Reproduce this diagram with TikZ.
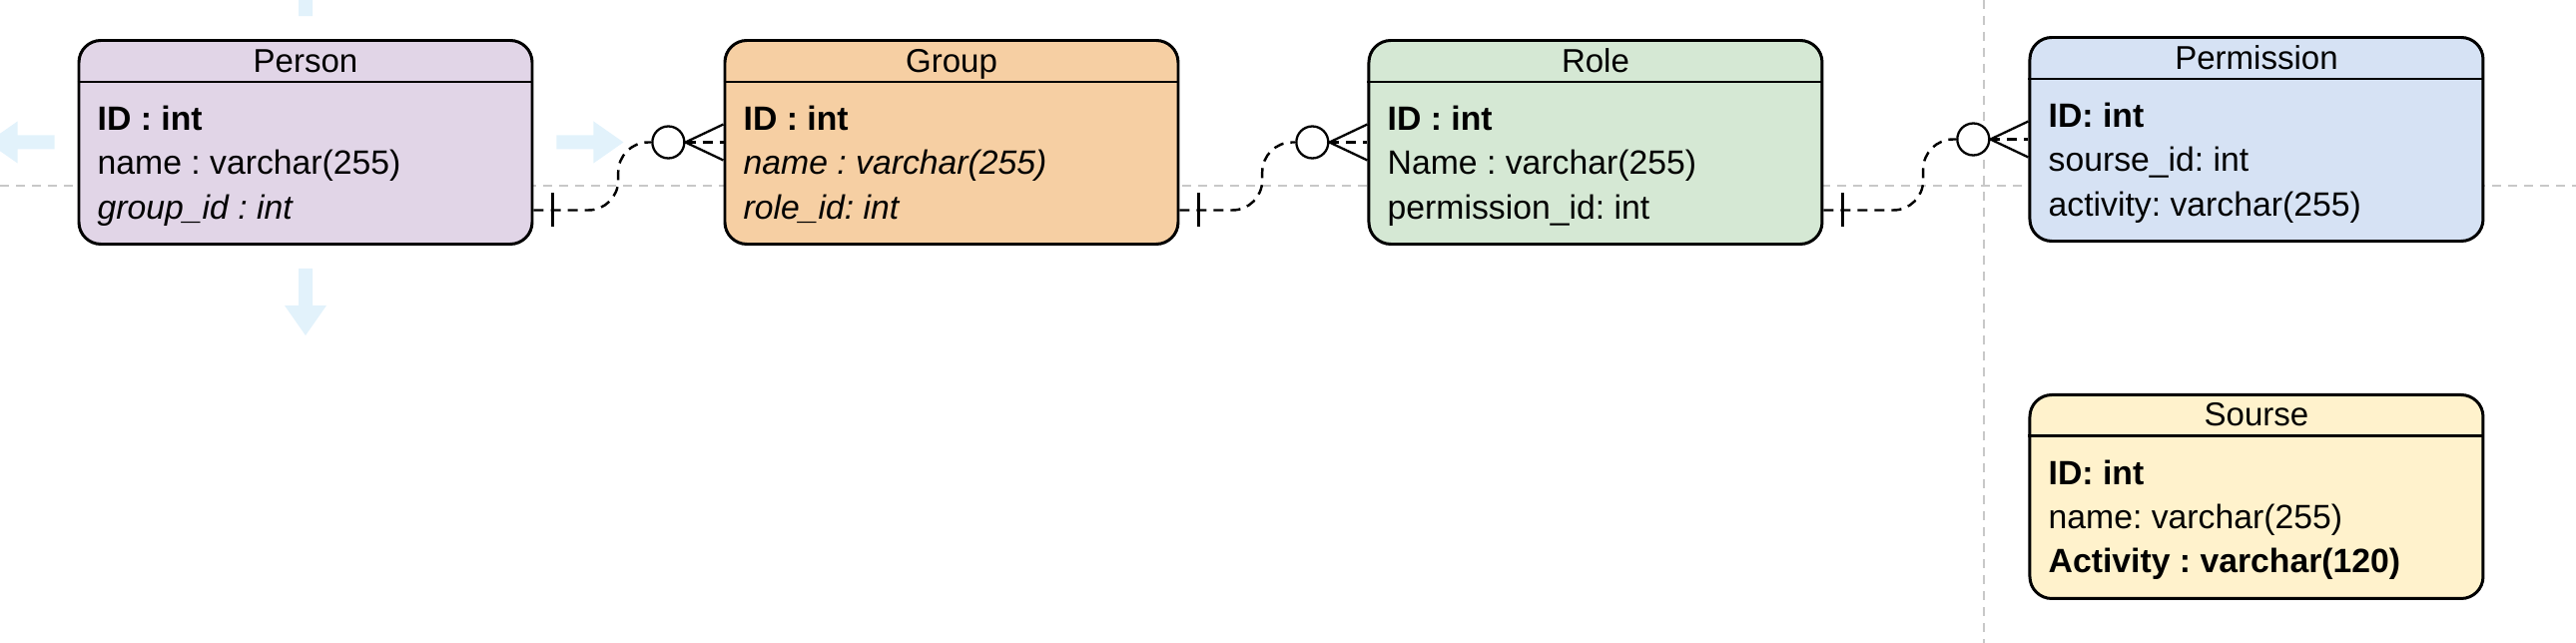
\documentclass[tikz,border=0pt]{standalone}
\usepackage{fontspec}
\setmainfont{Liberation Sans}
\usepackage{xcolor}
\usepackage{tikz}
\usetikzlibrary{positioning}
\frenchspacing

\definecolor{persfill}{HTML}{E1D5E7}
\definecolor{groupfill}{RGB}{246,207,163}
\definecolor{rolefill}{HTML}{D5E8D4}
\definecolor{permfill}{RGB}{214,226,244}
\definecolor{srcfill}{HTML}{FFF2CC}
\definecolor{hintblue}{RGB}{226,242,251}
\definecolor{guidegray}{RGB}{200,200,200}

\begin{document}
\begin{tikzpicture}[
    entity/.style={rectangle, draw, line width=0.85pt, rounded corners=0.22cm,
                   minimum width=4.54cm, minimum height=2.04cm, inner sep=0pt},
    ehead/.style={font=\fontsize{9.4}{11}\selectfont, inner sep=0pt, anchor=base},
    efields/.style={font=\fontsize{9.6}{12.65}\selectfont, align=left,
                    inner sep=0pt, anchor=base west},
    erule/.style={line width=0.85pt},
    rel/.style={dash pattern=on 0.1cm off 0.07cm, line width=0.7pt},
    crow/.style={line width=0.65pt},
    zero/.style={circle, draw, fill=white, line width=0.65pt,
                 minimum size=0.32cm, inner sep=0pt},
    guide/.style={guidegray, line width=0.6pt, dash pattern=on 0.09cm off 0.07cm},
    hint/.style={fill=hintblue},
]
\useasboundingbox (0,0) rectangle (25.8,-6.44);

% Guides
\draw[guide] (0,-1.86) -- (25.8,-1.86);
\draw[guide] (19.87,0) -- (19.87,-6.44);

% Person
\node[entity, fill=persfill] (person) at (3.06,-1.425) {};
\node[ehead] (person-h) at ([yshift=-0.33cm]person.north) {Person};
\draw[erule] ([yshift=-0.43cm]person.north west) -- ([yshift=-0.43cm]person.north east);
\node[efields] (person-f) at ([xshift=0.195cm,yshift=-1.80cm]person.north west)
    {\textbf{ID : int}\\name : varchar(255)\\\textit{group\_id : int}};

% Group
\node[entity, fill=groupfill, right=1.90cm of person] (group) {};
\node[ehead] (group-h) at ([yshift=-0.33cm]group.north) {Group};
\draw[erule] ([yshift=-0.43cm]group.north west) -- ([yshift=-0.43cm]group.north east);
\node[efields] (group-f) at ([xshift=0.195cm,yshift=-1.80cm]group.north west)
    {\textbf{ID : int}\\\textit{name : varchar(255)}\\\textit{role\_id: int}};

% Role
\node[entity, fill=rolefill, right=1.88cm of group] (role) {};
\node[ehead] (role-h) at ([yshift=-0.33cm]role.north) {Role};
\draw[erule] ([yshift=-0.43cm]role.north west) -- ([yshift=-0.43cm]role.north east);
\node[efields] (role-f) at ([xshift=0.195cm,yshift=-1.80cm]role.north west)
    {\textbf{ID : int}\\Name : varchar(255)\\permission\_id: int};

% Permission
\node[entity, fill=permfill, right=2.05cm of role, yshift=0.03cm] (perm) {};
\node[ehead] (perm-h) at ([yshift=-0.33cm]perm.north) {Permission};
\draw[erule] ([yshift=-0.43cm]perm.north west) -- ([yshift=-0.43cm]perm.north east);
\node[efields] (perm-f) at ([xshift=0.195cm,yshift=-1.80cm]perm.north west)
    {\textbf{ID: int}\\sourse\_id: int\\activity: varchar(255)};

% Sourse
\node[entity, fill=srcfill, below=1.51cm of perm] (src) {};
\node[ehead] (src-h) at ([yshift=-0.33cm]src.north) {Sourse};
\draw[erule] ([yshift=-0.43cm]src.north west) -- ([yshift=-0.43cm]src.north east);
\node[efields] (src-f) at ([xshift=0.195cm,yshift=-1.80cm]src.north west)
    {\textbf{ID: int}\\name: varchar(255)\\\textbf{Activity : varchar(120)}};

% Hover arrows round Person
\foreach \a/\r in {east/0, north/90, west/180, south/270}
    \fill[hint, shift={(person.\a)}, rotate=\r]
        (0.23,0.07) -- (0.6,0.07) -- (0.6,0.21) -- (0.9,0) -- (0.6,-0.21)
        -- (0.6,-0.07) -- (0.23,-0.07) -- cycle;

% Person -> Group
\coordinate[below=0.68cm of person.east] (pg-one);
\node[zero, left=0.38cm of group.west] (pg-zero) {};
\draw[rel, rounded corners=0.3cm] (pg-one) -| ([xshift=-0.33cm]pg-zero.west) -- (pg-zero.west);
\draw[rel] (pg-zero.east) -- (group.west);
\draw[crow] ([yshift=0.18cm]group.west) -- (pg-zero.east) -- ([yshift=-0.18cm]group.west);
\draw[crow] ([xshift=0.19cm]pg-one) ++(0,0.17) -- ++(0,-0.34);

% Group -> Role
\coordinate[below=0.68cm of group.east] (gr-one);
\node[zero, left=0.38cm of role.west] (gr-zero) {};
\draw[rel, rounded corners=0.3cm] (gr-one) -| ([xshift=-0.33cm]gr-zero.west) -- (gr-zero.west);
\draw[rel] (gr-zero.east) -- (role.west);
\draw[crow] ([yshift=0.18cm]role.west) -- (gr-zero.east) -- ([yshift=-0.18cm]role.west);
\draw[crow] ([xshift=0.19cm]gr-one) ++(0,0.17) -- ++(0,-0.34);

% Role -> Permission
\coordinate[below=0.68cm of role.east] (rp-one);
\node[zero, left=0.38cm of perm.west] (rp-zero) {};
\draw[rel, rounded corners=0.3cm] (rp-one) -| ([xshift=-0.33cm]rp-zero.west) -- (rp-zero.west);
\draw[rel] (rp-zero.east) -- (perm.west);
\draw[crow] ([yshift=0.18cm]perm.west) -- (rp-zero.east) -- ([yshift=-0.18cm]perm.west);
\draw[crow] ([xshift=0.19cm]rp-one) ++(0,0.17) -- ++(0,-0.34);

\end{tikzpicture}
\end{document}
